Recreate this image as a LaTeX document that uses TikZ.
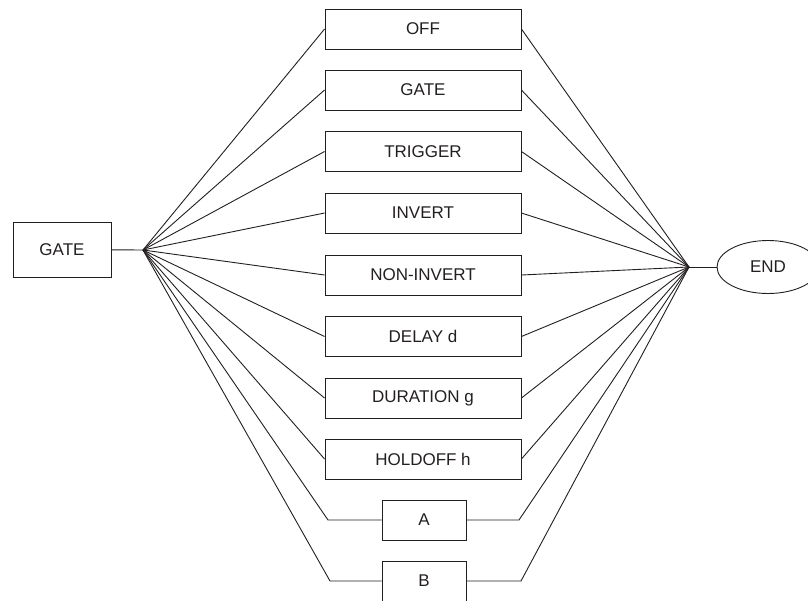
\documentclass[tikz,border=0pt]{standalone}
\usepackage{fontspec}
\setsansfont{Liberation Sans}
\usetikzlibrary{shapes.geometric}
\definecolor{ink}{HTML}{231F20}

\begin{document}
\begin{tikzpicture}[x=1pt,y=-1pt,line width=0.9pt,draw=ink,
  every node/.style={font=\sffamily\fontsize{17}{20}\selectfont,text=ink},
  opt/.style={draw, minimum width=196pt, minimum height=40pt, inner sep=0pt},
  opts/.style={draw, minimum width=84pt, minimum height=40pt, inner sep=0pt}]
\useasboundingbox (0,0) rectangle (808,600);
    \node[draw, minimum width=98pt, minimum height=55pt] (gate) at (62,249.5) {GATE};
    \node[draw, ellipse, minimum width=102pt, minimum height=53pt, inner sep=0pt] (end) at (768,267) {END};
    \coordinate (fl) at (143,250);
    \coordinate (fr) at (689,267);
    \node[opt] (off) at (423,29) {OFF};
    \node[opt] (gt) at (423,90) {GATE};
    \node[opt] (trig) at (423,151.5) {TRIGGER};
    \node[opt] (inv) at (423,213) {INVERT};
    \node[opt] (ninv) at (423,275) {NON-INVERT};
    \node[opt] (dly) at (423,336.5) {DELAY d};
    \node[opt] (dur) at (423,398) {DURATION g};
    \node[opt] (hold) at (423,459) {HOLDOFF h};
    \node[opts] (a) at (424,520) {A};
    \node[opts] (b) at (424,581) {B};
    \coordinate (al) at (328,520);
    \coordinate (ar) at (519,520);
    \coordinate (bl) at (330,581);
    \coordinate (br) at (521,581);
    \draw (gate) -- (fl);
    \draw (fr) -- (end);
    \draw (fl) -- (off.west);
    \draw (fl) -- (gt.west);
    \draw (fl) -- (trig.west);
    \draw (fl) -- (inv.west);
    \draw (fl) -- (ninv.west);
    \draw (fl) -- (dly.west);
    \draw (fl) -- (dur.west);
    \draw (fl) -- (hold.west);
    \draw (fl) -- (al) -- (a.west);
    \draw (fl) -- (bl) -- (b.west);
    \draw (off.east) -- (fr);
    \draw (gt.east) -- (fr);
    \draw (trig.east) -- (fr);
    \draw (inv.east) -- (fr);
    \draw (ninv.east) -- (fr);
    \draw (dly.east) -- (fr);
    \draw (dur.east) -- (fr);
    \draw (hold.east) -- (fr);
    \draw (a.east) -- (ar) -- (fr);
    \draw (b.east) -- (br) -- (fr);
\end{tikzpicture}
\end{document}
